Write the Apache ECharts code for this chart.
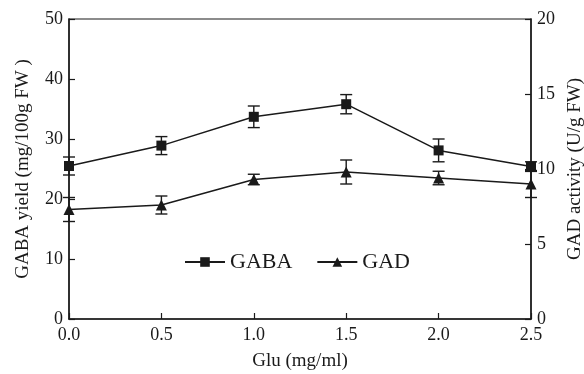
<!DOCTYPE html>
<html>
<head>
<meta charset="utf-8" />
<script src="https://cdn.jsdelivr.net/npm/echarts@6/dist/echarts.min.js"></script>
<style>
  html, body { margin: 0; padding: 0; background: #fff; }
  #chart { width: 584px; height: 374px; }
</style>
</head>
<body>
<div id="chart"></div>
<script type="text/javascript">
// Glu concentration (mg/ml)
var glu = [0.0, 0.5, 1.0, 1.5, 2.0, 2.5];
// GABA yield (mg/100g FW), left axis
var gaba = [25.5, 28.9, 33.7, 35.8, 28.1, 25.4];
var gabaErr = [1.5, 1.5, 1.8, 1.6, 1.9, 0.8];
// GAD activity (U/g FW), right axis
var gad = [7.3, 7.6, 9.3, 9.8, 9.4, 9.0];
var gadErr = [0.8, 0.6, 0.35, 0.8, 0.45, 0.9];

var font = 'Liberation Serif';
var ink = '#1a1a1a';

function pairs(xs, ys) {
    var out = [];
    for (var i = 0; i < xs.length; i++) out.push([xs[i], ys[i]]);
    return out;
}
function errData(xs, ys, es) {
    var out = [];
    for (var i = 0; i < xs.length; i++) out.push([xs[i], ys[i] - es[i], ys[i] + es[i]]);
    return out;
}
// 误差线
function errorBar(params, api) {
    var lo = api.coord([api.value(0), api.value(1)]);
    var hi = api.coord([api.value(0), api.value(2)]);
    var w = 6;
    var style = { stroke: ink, lineWidth: 1.4 };
    return {
        type: 'group',
        children: [
            { type: 'line', shape: { x1: lo[0], y1: lo[1], x2: hi[0], y2: hi[1] }, style: style },
            { type: 'line', shape: { x1: lo[0] - w, y1: lo[1], x2: lo[0] + w, y2: lo[1] }, style: style },
            { type: 'line', shape: { x1: hi[0] - w, y1: hi[1], x2: hi[0] + w, y2: hi[1] }, style: style }
        ]
    };
}

var axisCommon = {
    axisLine: { show: true, lineStyle: { color: ink, width: 1.5 } },
    axisTick: { show: true, inside: true, length: 6, lineStyle: { color: ink, width: 1.2 } },
    splitLine: { show: false },
    axisLabel: { color: ink, fontFamily: font, fontSize: 18, margin: 6 },
    nameTextStyle: { color: ink, fontFamily: font, fontSize: 19 }
};

var option = {
    backgroundColor: '#fff',
    animation: false,
    grid: {
        left: 69, right: 53, top: 19, bottom: 55,
        outerBoundsMode: 'none', containLabel: false,
        show: true, borderColor: ink, borderWidth: 1.2
    },
    legend: {
        data: ['GABA', 'GAD'],
        left: 179,
        top: 246,
        itemWidth: 40,
        itemHeight: 12,
        itemGap: 24,
        textStyle: { color: ink, fontFamily: font, fontSize: 22 }
    },
    xAxis: Object.assign({}, axisCommon, {
        type: 'value',
        min: 0, max: 2.5, interval: 0.5,
        name: 'Glu (mg/ml)',
        nameLocation: 'middle',
        nameGap: 33,
        axisLabel: Object.assign({}, axisCommon.axisLabel, {
            margin: 7,
            formatter: function (v) { return v.toFixed(1); }
        })
    }),
    yAxis: [
        Object.assign({}, axisCommon, {
            type: 'value',
            min: 0, max: 50, interval: 10,
            name: 'GABA yield (mg/100g FW )',
            nameLocation: 'middle',
            nameGap: 36,
            position: 'left'
        }),
        Object.assign({}, axisCommon, {
            type: 'value',
            min: 0, max: 20, interval: 5,
            name: 'GAD activity (U/g FW)',
            nameLocation: 'middle',
            nameGap: 33,
            nameRotate: 90,
            position: 'right'
        })
    ],
    series: [
        {
            name: 'GABA', type: 'line', yAxisIndex: 0,
            data: pairs(glu, gaba),
            symbol: 'rect', symbolSize: 10,
            itemStyle: { color: ink },
            lineStyle: { color: ink, width: 1.5 },
            z: 3
        },
        {
            name: 'GAD', type: 'line', yAxisIndex: 1,
            data: pairs(glu, gad),
            symbol: 'triangle', symbolSize: 11,
            itemStyle: { color: ink },
            lineStyle: { color: ink, width: 1.5 },
            z: 3
        },
        {
            type: 'custom', yAxisIndex: 0,
            data: errData(glu, gaba, gabaErr),
            renderItem: errorBar,
            encode: { x: 0, y: [1, 2] },
            z: 2
        },
        {
            type: 'custom', yAxisIndex: 1,
            data: errData(glu, gad, gadErr),
            renderItem: errorBar,
            encode: { x: 0, y: [1, 2] },
            z: 2
        }
    ]
};

var myChart = echarts.init(document.getElementById('chart'));
myChart.setOption(option);
</script>
</body>
</html>
